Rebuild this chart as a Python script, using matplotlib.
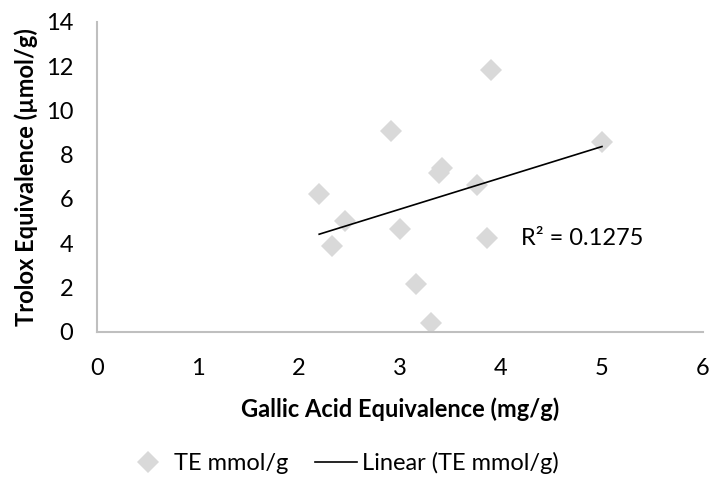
import numpy as np
import matplotlib
matplotlib.use("Agg")
import matplotlib.pyplot as plt
from matplotlib.lines import Line2D

plt.rcParams['font.family'] = ['Lato', 'DejaVu Sans']

# data
gae = [2.20, 2.33, 2.46, 2.91, 3.00, 3.16, 3.31, 3.39, 3.42, 3.76, 3.86, 3.90, 5.00]
te = [6.21, 3.89, 5.02, 9.07, 4.66, 2.17, 0.38, 7.17, 7.40, 6.63, 4.25, 11.81, 8.59]
r2_label = "R² = 0.1275"

marker_gray = '#D9D9D9'
axis_gray = '#BFBFBF'
fs = 17

fig = plt.figure(figsize=(7.11, 4.91), dpi=100)
ax = fig.add_axes([0.1364, 0.3244, 0.8523, 0.6308])

ax.plot(gae, te, linestyle='none', marker='D', markersize=11,
        color=marker_gray, markeredgewidth=0, zorder=2)

# linear trendline between the min and max x
slope, intercept = np.polyfit(gae, te, 1)
xs = np.array([min(gae), max(gae)])
ax.plot(xs, slope * xs + intercept, color='black', linewidth=1.2, zorder=3)

ax.text(4.2, 4.2, r2_label, fontsize=fs, va='center', ha='left')

ax.set_xlim(0, 6)
ax.set_ylim(0, 14)
ax.set_xticks(range(0, 7))
ax.set_yticks(range(0, 15, 2))
ax.tick_params(length=0, labelsize=fs)
ax.tick_params(axis='y', pad=17)
ax.tick_params(axis='x', pad=19)

for side in ['top', 'right']:
    ax.spines[side].set_visible(False)
for side in ['left', 'bottom']:
    ax.spines[side].set_color(axis_gray)
    ax.spines[side].set_linewidth(1.5)

ax.set_xlabel('Gallic Acid Equivalence (mg/g)', fontsize=fs,
              fontweight='bold', labelpad=13)
ax.set_ylabel('Trolox Equivalence (µmol/g)', fontsize=fs,
              fontweight='bold', labelpad=6)

handles = [
    Line2D([], [], linestyle='none', marker='D', markersize=11,
           color=marker_gray, markeredgewidth=0),
    Line2D([], [], color='black', linewidth=1.2),
]
fig.legend(handles, ['TE mmol/g', 'Linear (TE mmol/g)'], loc='center',
           bbox_to_anchor=(0.482, 0.057), ncol=2, frameon=False,
           fontsize=fs, handlelength=1.8, columnspacing=1.1,
           handletextpad=0.2)

fig.savefig('out.png', dpi=100)
